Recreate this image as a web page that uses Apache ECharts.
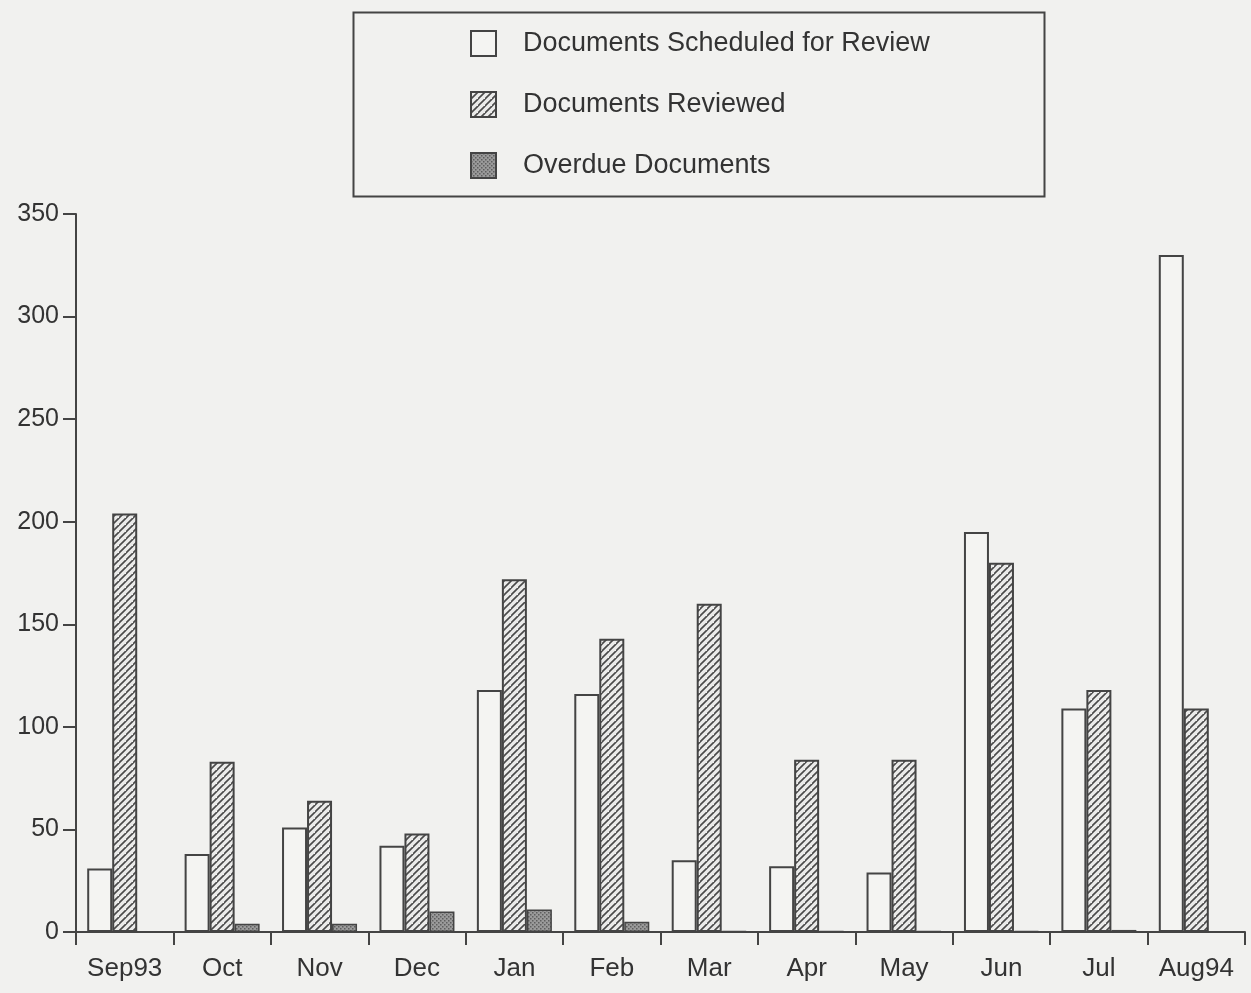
<!DOCTYPE html>
<html>
<head>
<meta charset="utf-8">
<script src="https://cdn.jsdelivr.net/npm/echarts@6/dist/echarts.min.js"></script>
<style>
html,body{margin:0;padding:0;background:#f1f1ef;}
#chart{width:1251px;height:993px;}
</style>
</head>
<body>
<div id="chart"></div>
<script>
const categories = ['Sep93','Oct','Nov','Dec','Jan','Feb','Mar','Apr','May','Jun','Jul','Aug94'];
const scheduled = [31, 38, 51, 42, 118, 116, 35, 32, 29, 195, 109, 330];
const reviewed  = [204, 83, 64, 48, 172, 143, 160, 84, 84, 180, 118, 109];
const overdue   = [0, 4, 4, 10, 11, 5, 0.5, 0.5, 0.5, 0.5, 1, 0];
const yTicks = { min: 0, max: 350, interval: 50 };
const seriesNames = ['Documents Scheduled for Review', 'Documents Reviewed', 'Overdue Documents'];

function hatchPattern() {
  const s = 7;
  const c = document.createElement('canvas');
  c.width = s; c.height = s;
  const g = c.getContext('2d');
  g.fillStyle = '#ebebea';
  g.fillRect(0, 0, s, s);
  g.strokeStyle = '#4a4a4a';
  g.lineWidth = 1.6;
  g.beginPath();
  g.moveTo(-1, s + 1); g.lineTo(s + 1, -1);
  g.moveTo(-1 - s, s + 1); g.lineTo(1, -1);
  g.moveTo(s - 1, 2 * s + 1); g.lineTo(2 * s + 1, s - 1);
  g.stroke();
  return c;
}
function dotPattern() {
  const s = 4;
  const c = document.createElement('canvas');
  c.width = s; c.height = s;
  const g = c.getContext('2d');
  g.fillStyle = '#9a9a9a';
  g.fillRect(0, 0, s, s);
  g.fillStyle = '#5e5e5e';
  g.fillRect(0, 0, 1.5, 1.5);
  g.fillRect(2, 2, 1.5, 1.5);
  return c;
}

const chart = echarts.init(document.getElementById('chart'));
const textColor = '#333';
const lineColor = '#444';
const font = 'Liberation Sans, Arial, Helvetica, sans-serif';

chart.setOption({
  backgroundColor: '#f1f1ef',
  animation: false,
  graphic: [{
    type: 'rect',
    shape: { x: 353.5, y: 12.5, width: 691, height: 184 },
    style: { fill: 'none', stroke: lineColor, lineWidth: 2 }
  }],
  legend: {
    orient: 'vertical',
    left: 470,
    top: 30,
    padding: 0,
    itemWidth: 25,
    itemHeight: 25,
    itemGap: 34,
    icon: 'rect',
    textStyle: { fontFamily: font, fontSize: 27, lineHeight: 25, color: textColor, padding: [0, 0, 0, 22] },
    data: seriesNames
  },
  grid: { left: 76, right: 6, top: 214, bottom: 61, containLabel: false },
  xAxis: {
    type: 'category',
    data: categories,
    boundaryGap: true,
    axisLine: { show: true, lineStyle: { color: lineColor, width: 2 } },
    axisTick: { show: true, alignWithLabel: false, length: 13, lineStyle: { color: lineColor, width: 2 } },
    axisLabel: { fontFamily: font, fontSize: 26, color: textColor, margin: 24, interval: 0 }
  },
  yAxis: {
    type: 'value',
    min: yTicks.min,
    max: yTicks.max,
    interval: yTicks.interval,
    splitLine: { show: false },
    axisLine: { show: true, lineStyle: { color: lineColor, width: 2 } },
    axisTick: { show: true, length: 13, lineStyle: { color: lineColor, width: 2 } },
    axisLabel: { fontFamily: font, fontSize: 25, color: textColor, margin: 17 }
  },
  series: [
    {
      name: seriesNames[0], type: 'bar', data: scheduled, barWidth: 25, barGap: '0%',
      itemStyle: { color: '#f4f4f2', borderColor: lineColor, borderWidth: 2 }
    },
    {
      name: seriesNames[1], type: 'bar', data: reviewed, barWidth: 25, barGap: '0%',
      itemStyle: { color: { image: hatchPattern(), repeat: 'repeat' }, borderColor: lineColor, borderWidth: 2 }
    },
    {
      name: seriesNames[2], type: 'bar', data: overdue, barWidth: 25, barGap: '0%',
      itemStyle: { color: { image: dotPattern(), repeat: 'repeat' }, borderColor: lineColor, borderWidth: 1.5 }
    }
  ]
});
</script>
</body>
</html>
